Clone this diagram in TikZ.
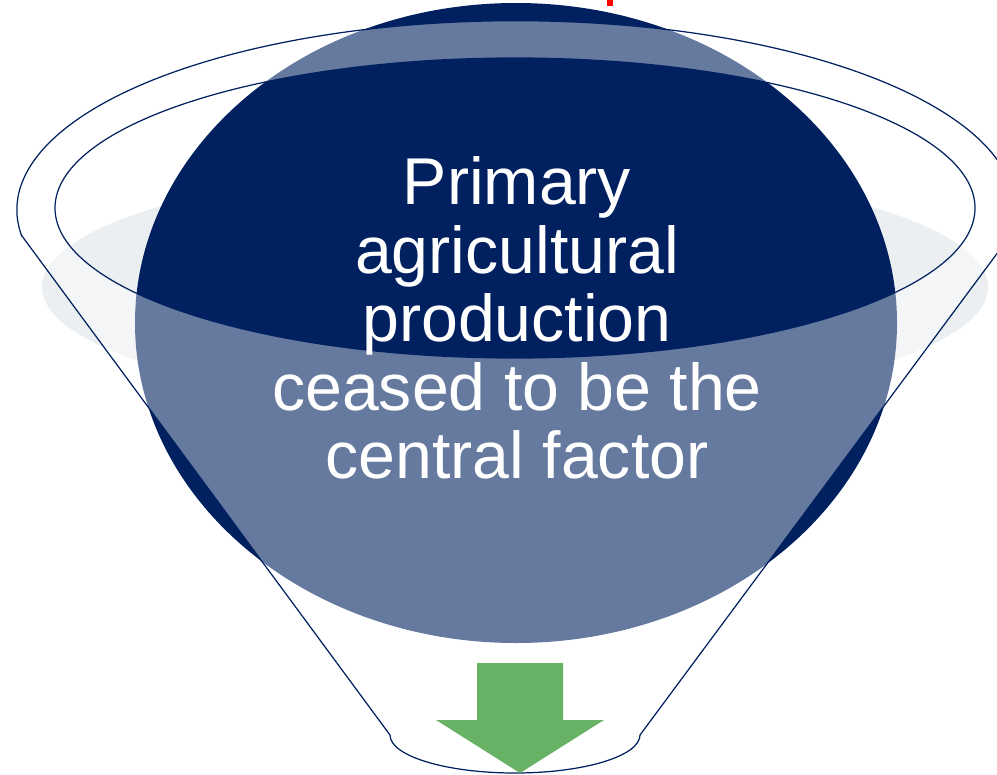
\documentclass[tikz,border=0pt]{standalone}
\usepackage{fontspec}
\setmainfont{Liberation Sans}
\definecolor{navy}{RGB}{0,32,96}
\definecolor{shadowgray}{RGB}{236,239,242}
\definecolor{arrowgreen}{RGB}{103,178,101}
\begin{document}
\begin{tikzpicture}[x=0.02cm, y=0.02cm,
    funnel/.style={draw=navy, line width=0.7pt, fill=white, fill opacity=0.4, even odd rule},
    funneltext/.style={text=white, align=center, inner sep=0pt, font=\fontsize{37.7}{39}\selectfont}]
    \useasboundingbox (0,0) rectangle (997,-774);
    % Shadow and ball
    \fill[shadowgray] (515,-287) ellipse [x radius=473, y radius=122];
    \fill[navy] (516,-323) ellipse [x radius=381, y radius=320];
    % Funnel with open rim
    \path[funnel] (22,-236) -- (390,-735)
        arc [start angle=180, end angle=360, x radius=125, y radius=38]
        -- (1010,-236)
        arc [start angle=-8, end angle=188, x radius=499, y radius=189] -- cycle
        (515,-208) ellipse [x radius=460, y radius=150];
    % Text
    \node[funneltext] (factor) at (517,-318)
        {Primary\\agricultural\\production\\ceased to be the\\central factor};
    % Output arrow
    \fill[arrowgreen] (477,-663) -- (563,-663) -- (563,-720) -- (604,-720)
        -- (520,-773) -- (436,-720) -- (477,-720) -- cycle;
    % Red mark
    \fill[red] (607,0) rectangle (613,-6);
\end{tikzpicture}
\end{document}
